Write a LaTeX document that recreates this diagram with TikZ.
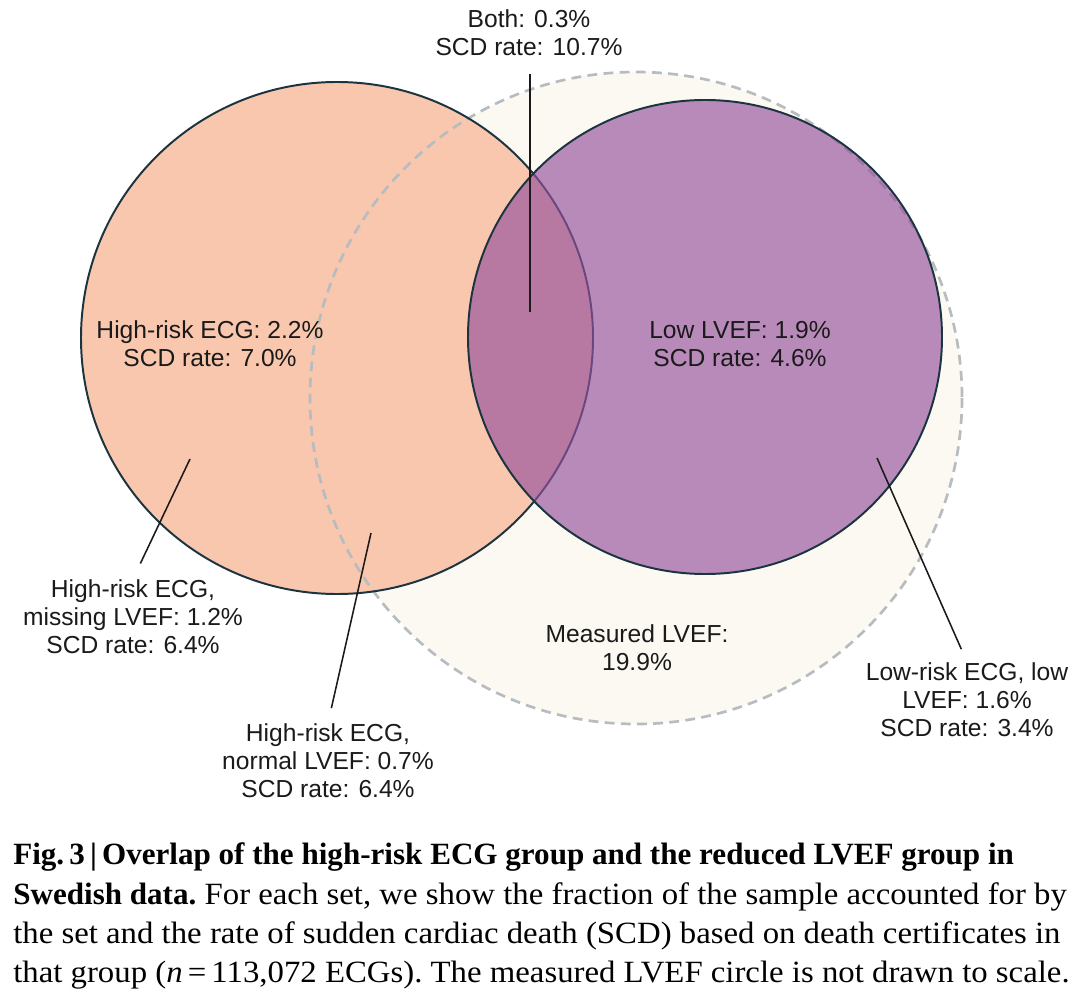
\documentclass[tikz,border=0pt]{standalone}
\usepackage{fontspec}
\usepackage{tikz}
\usetikzlibrary{calc}
\newfontfamily\lblfont{Liberation Sans}
\newfontfamily\capfont[FakeStretch=1.06, BoldFeatures={FakeStretch=1.005}]{Liberation Serif}
\definecolor{hrisk}{HTML}{F9C7AE}
\definecolor{lowef}{HTML}{96529D}
\definecolor{meas}{HTML}{FCF9F2}
\definecolor{measrim}{HTML}{B6BCC0}
\definecolor{rim}{HTML}{1B3440}
\definecolor{ink}{HTML}{1A1A1A}

\begin{document}
\begin{tikzpicture}[x=0.025cm, y=-0.025cm,
  lab/.style={font=\lblfont\fontsize{17.5}{19.9}\selectfont, align=center, inner sep=0pt, anchor=north, text=ink},
  lead/.style={draw=ink, line width=1.1pt},
  ring/.style={draw=rim, line width=1.4pt},
  captxt/.style={font=\capfont\fontsize{22}{28}\selectfont\frenchspacing, anchor=base west, inner sep=0pt, text=black}
]
\useasboundingbox (0,0) rectangle (1080,998);
\coordinate (cm) at (636,398);
\coordinate (ch) at (337,338);
\coordinate (cl) at (705,337);
\fill[meas] (cm) circle[radius=326];
\fill[hrisk] (ch) circle[radius=256];
\draw[measrim, line width=1.9pt, dash pattern=on 7pt off 4.5pt] (cm) circle[radius=326];
\draw[ring] (ch) circle[radius=256];
\draw[ring, fill=lowef, fill opacity=0.66] (cl) circle[radius=237];
\node[lab] (both) at (529,9) {Both: 0.3\%\\SCD rate: 10.7\%};
\node[lab] (hr) at (210,320) {High-risk ECG: 2.2\%\\SCD rate: 7.0\%};
\node[lab] (lv) at (740,321) {Low LVEF: 1.9\%\\SCD rate: 4.6\%};
\node[lab] (miss) at (133,579) {High-risk ECG,\\missing LVEF: 1.2\%\\SCD rate: 6.4\%};
\node[lab] (norm) at (328,723) {High-risk ECG,\\normal LVEF: 0.7\%\\SCD rate: 6.4\%};
\node[lab] (ms) at (637,624) {Measured LVEF:\\19.9\%};
\node[lab] (lowrisk) at (967,662) {Low-risk ECG, low\\LVEF: 1.6\%\\SCD rate: 3.4\%};
\coordinate (pboth) at (530,312);
\coordinate (pmiss) at (190,459);
\coordinate (pnorm) at (371,533);
\coordinate (plow) at (877,458);
\draw[lead, shorten >=0.45cm] (pboth) -- (pboth |- both.south);
\draw[lead, shorten >=0.43cm] (pmiss) -- (miss.north);
\draw[lead, shorten >=0.38cm] (pnorm) -- (norm.north);
\draw[lead, shorten >=0.35cm] (plow) -- (lowrisk.north);
\node[captxt] (c1) at (13,864) {\bfseries Fig.\,3\,|\,Overlap of the high-risk ECG group and the reduced LVEF group in};
\node[captxt] (c2) at (13,904) {\textbf{Swedish data.} For each set, we show the fraction of the sample accounted for by};
\node[captxt] (c3) at (13,943) {the set and the rate of sudden cardiac death (SCD) based on death certificates in};
\node[captxt] (c4) at (13,982) {that group (\textit{n}\,=\,113,072 ECGs). The measured LVEF circle is not drawn to scale.};
\end{tikzpicture}
\end{document}
